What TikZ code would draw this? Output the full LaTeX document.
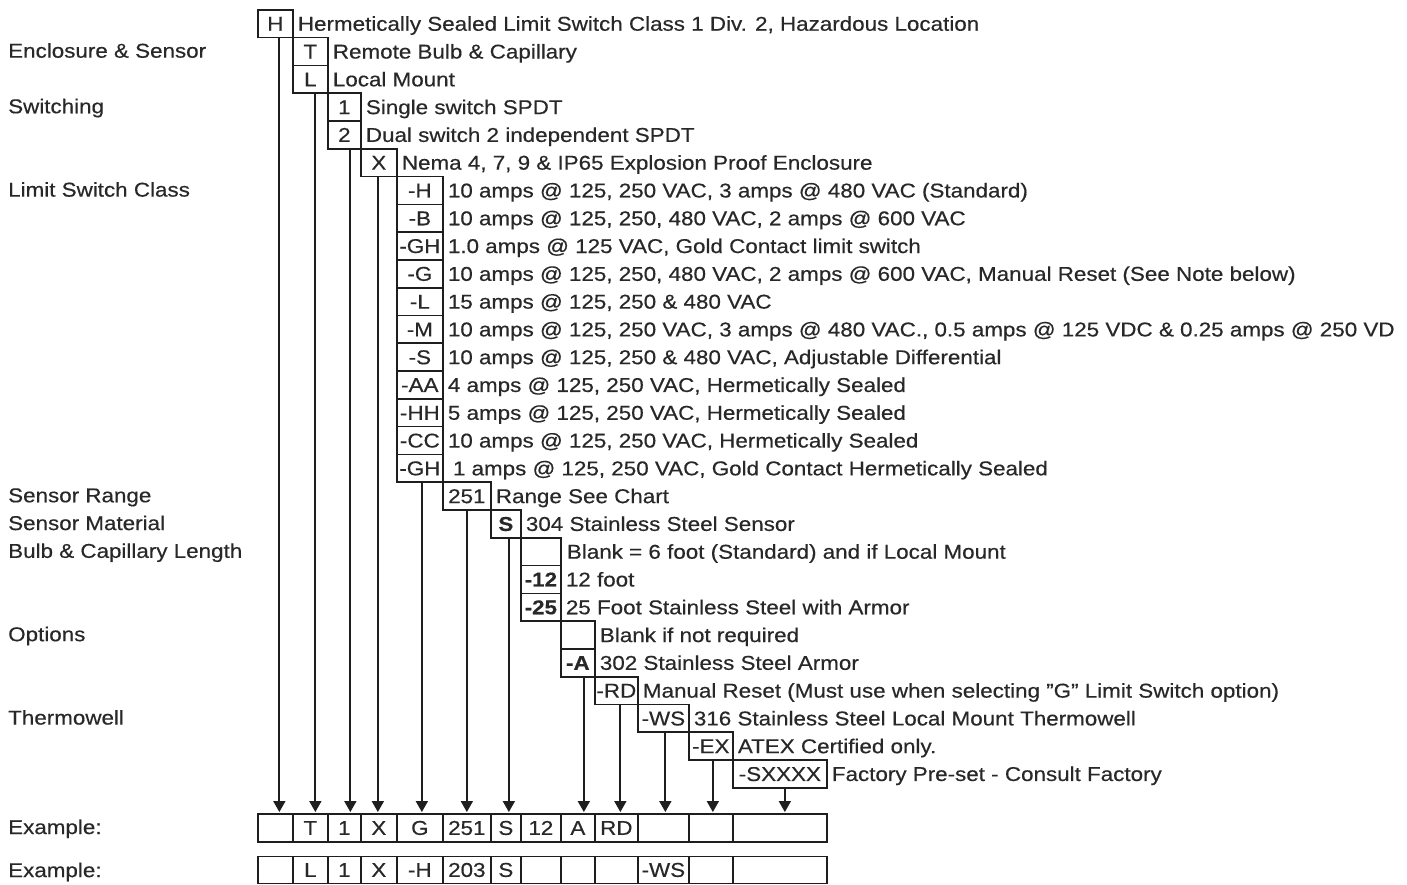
\documentclass[tikz,border=0pt]{standalone}
\usepackage{fontspec}
\setmainfont[FakeStretch=1.12,FakeBold=0.4]{Liberation Sans}
\usetikzlibrary{arrows.meta}
\definecolor{lc}{RGB}{30,30,30}
\definecolor{tc}{RGB}{40,40,40}
\newcommand\mybox[5]{\node[bx, minimum width={#3-#2}] (#1) at (#2,{9+27.786*#4}) {#5};}
\newcommand\mydesc[2]{\node[ds] (d#1) at (#1.east) {#2};}
\newcommand\mylab[3]{\node[lb] (#1) at (8,{9+27.786*(#2+0.5)}) {#3};}
\begin{document}
\begin{tikzpicture}[x=1pt,y=-1pt,
  every node/.style={font=\fontsize{20}{24}\selectfont, text=tc},
  bx/.style={draw=lc, line width=1.7pt, minimum height=27.786pt, inner sep=0pt, anchor=north west, text height=18pt, text depth=4pt},
  ds/.style={anchor=west, inner sep=0pt, xshift=4pt, text height=18pt, text depth=4pt},
  lb/.style={anchor=west, inner sep=0pt, text height=18pt, text depth=4pt},
  ex/.style={draw=lc, line width=1.7pt, inner sep=0pt, anchor=north west, text height=18pt, text depth=4pt},
  arr/.style={draw=lc, line width=1.8pt, -{Triangle[length=11pt,width=12pt]}, shorten >=1pt}]
\useasboundingbox[fill=white] (0,0) rectangle (1407,884);

% left labels
\mylab{lEnc}{1}{Enclosure \& Sensor}
\mylab{lSw}{3}{Switching}
\mylab{lLim}{6}{Limit Switch Class}
\mylab{lRng}{17}{Sensor Range}
\mylab{lMat}{18}{Sensor Material}
\mylab{lBulb}{19}{Bulb \& Capillary Length}
\mylab{lOpt}{22}{Options}
\mylab{lTw}{25}{Thermowell}

% option boxes
\mybox{bH}{257}{292}{0}{H}
\mydesc{bH}{Hermetically Sealed Limit Switch Class 1 Div. 2, Hazardous Location}
\mybox{bT}{292}{327}{1}{T}
\mydesc{bT}{Remote Bulb \& Capillary}
\mybox{bL}{292}{327}{2}{L}
\mydesc{bL}{Local Mount}
\mybox{b1}{327}{360}{3}{1}
\mydesc{b1}{Single switch SPDT}
\mybox{b2}{327}{360}{4}{2}
\mydesc{b2}{Dual switch 2 independent SPDT}
\mybox{bX}{360}{396}{5}{X}
\mydesc{bX}{Nema 4, 7, 9 \& IP65 Explosion Proof Enclosure}
\mybox{mH}{396}{442}{6}{-H}
\mydesc{mH}{10 amps @ 125, 250 VAC, 3 amps @ 480 VAC (Standard)}
\mybox{mB}{396}{442}{7}{-B}
\mydesc{mB}{10 amps @ 125, 250, 480 VAC, 2 amps @ 600 VAC}
\mybox{mGH}{396}{442}{8}{-GH}
\mydesc{mGH}{1.0 amps @ 125 VAC, Gold Contact limit switch}
\mybox{mG}{396}{442}{9}{-G}
\mydesc{mG}{10 amps @ 125, 250, 480 VAC, 2 amps @ 600 VAC, Manual Reset (See Note below)}
\mybox{mL}{396}{442}{10}{-L}
\mydesc{mL}{15 amps @ 125, 250 \& 480 VAC}
\mybox{mM}{396}{442}{11}{-M}
\mydesc{mM}{10 amps @ 125, 250 VAC, 3 amps @ 480 VAC., 0.5 amps @ 125 VDC \& 0.25 amps @ 250 VD}
\mybox{mS}{396}{442}{12}{-S}
\mydesc{mS}{10 amps @ 125, 250 \& 480 VAC, Adjustable Differential}
\mybox{mAA}{396}{442}{13}{-AA}
\mydesc{mAA}{4 amps @ 125, 250 VAC, Hermetically Sealed}
\mybox{mHH}{396}{442}{14}{-HH}
\mydesc{mHH}{5 amps @ 125, 250 VAC, Hermetically Sealed}
\mybox{mCC}{396}{442}{15}{-CC}
\mydesc{mCC}{10 amps @ 125, 250 VAC, Hermetically Sealed}
\mybox{mGHb}{396}{442}{16}{-GH}
\mydesc{mGHb}{\hspace{5pt}1 amps @ 125, 250 VAC, Gold Contact Hermetically Sealed}
\mybox{b251}{442}{490}{17}{251}
\mydesc{b251}{Range See Chart}
\mybox{bS}{490}{520}{18}{\textbf{S}}
\mydesc{bS}{304 Stainless Steel Sensor}
\mybox{bBa}{520}{560}{19}{}
\mydesc{bBa}{\hspace{1pt}Blank = 6 foot (Standard) and if Local Mount}
\mybox{b12}{520}{560}{20}{\textbf{-12}}
\mydesc{b12}{12 foot}
\mybox{b25}{520}{560}{21}{\textbf{-25}}
\mydesc{b25}{25 Foot Stainless Steel with Armor}
\mybox{bBb}{560}{594}{22}{}
\mydesc{bBb}{Blank if not required}
\mybox{bA}{560}{594}{23}{\textbf{-A}}
\mydesc{bA}{302 Stainless Steel Armor}
\mybox{bRD}{594}{637}{24}{-RD}
\mydesc{bRD}{Manual Reset (Must use when selecting \symbol{34}G\symbol{34} Limit Switch option)}
\mybox{bWS}{637}{688}{25}{-WS}
\mydesc{bWS}{316 Stainless Steel Local Mount Thermowell}
\mybox{bEX}{688}{732}{26}{-EX}
\mydesc{bEX}{ATEX Certified only.}
\mybox{bSX}{732}{826}{27}{-SXXXX}
\mydesc{bSX}{Factory Pre-set - Consult Factory}

% example rows
\mylab{lEx1}{28.94}{Example:}
\mylab{lEx2}{30.49}{Example:}
\foreach \nm/\xa/\xb/\ta/\tb in {1/257/292//, 2/292/327/T/L, 3/327/360/1/1, 4/360/396/X/X, 5/396/442/G/-H, 6/442/490/251/203, 7/490/520/S/S, 8/520/560/12/, 9/560/594/A/, 10/594/637/RD/, 11/637/688//-WS, 12/688/732//, 13/732/826//}{
  \node[ex, minimum width={\xb-\xa}, minimum height=28pt] (e\nm) at (\xa,813) {\ta};
  \node[ex, minimum width={\xb-\xa}, minimum height=27pt] (f\nm) at (\xa,855.5) {\tb};
}

% connectors
\draw[arr] ([xshift=4pt]bH.south) -- ([xshift=4pt]e1.north);
\draw[arr] ([xshift=5pt]bL.south) -- ([xshift=5pt]e2.north);
\draw[arr] ([xshift=6pt]b2.south) -- ([xshift=6pt]e3.north);
\draw[arr] ([xshift=-1pt]bX.south) -- ([xshift=-1pt]e4.north);
\draw[arr] ([xshift=2pt]mGHb.south) -- ([xshift=2pt]e5.north);
\draw[arr] ([xshift=0pt]b251.south) -- ([xshift=0pt]e6.north);
\draw[arr] ([xshift=3pt]bS.south) -- ([xshift=3pt]e7.north);
\draw[arr] ([xshift=6pt]bA.south) -- ([xshift=6pt]e9.north);
\draw[arr] ([xshift=4pt]bRD.south) -- ([xshift=4pt]e10.north);
\draw[arr] ([xshift=2pt]bWS.south) -- ([xshift=2pt]e11.north);
\draw[arr] ([xshift=2pt]bEX.south) -- ([xshift=2pt]e12.north);
\draw[arr] ([xshift=5pt]bSX.south) -- ([xshift=5pt]e13.north);
\end{tikzpicture}
\end{document}
